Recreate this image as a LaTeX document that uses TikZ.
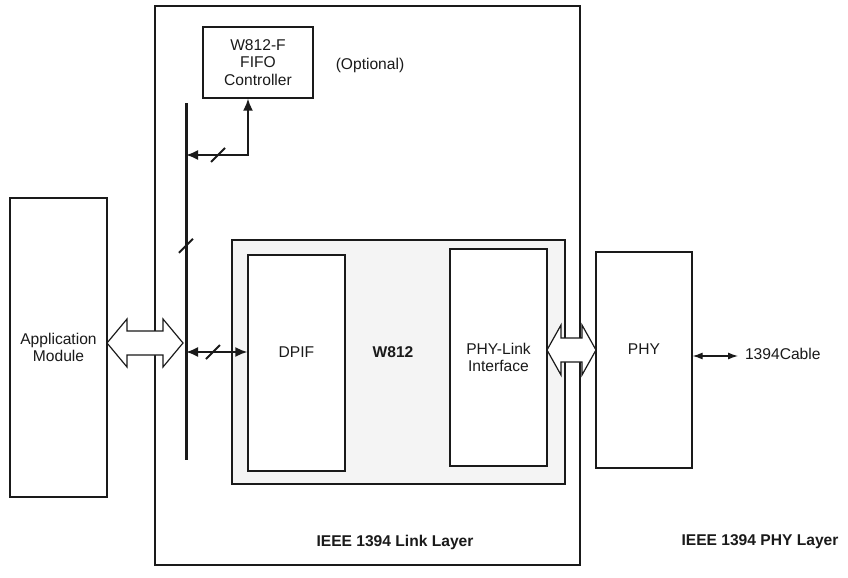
\documentclass[tikz,border=0pt]{standalone}
\usepackage{fontspec}
\setmainfont{Liberation Sans}
\usetikzlibrary{arrows.meta,calc}
\definecolor{ChipFill}{HTML}{F4F4F4}
\definecolor{LineDark}{HTML}{1A1A1A}

\begin{document}
\begin{tikzpicture}[x=0.5pt,y=-0.5pt,every node/.style={font=\fontsize{7.8}{8.6}\selectfont,text=LineDark},block/.style={draw=LineDark,line width=0.6pt,inner sep=0pt,align=center},layer/.style={font=\fontsize{7.8}{8.6}\selectfont\bfseries},bus/.style={draw=LineDark,line width=1.5pt},link/.style={draw=LineDark,line width=1pt,{Latex[length=6pt,width=5pt]}-{Latex[length=6pt,width=5pt]}},cable/.style={draw=LineDark,line width=0.6pt,{Latex[length=5pt,width=3.5pt]}-{Latex[length=5pt,width=3.5pt]}},slash/.style={draw=LineDark,line width=1pt},hollow/.style={draw=LineDark,fill=white,line width=0.6pt,line join=miter}]
\fill[white] (0,0) rectangle (848,578);
% layer boxes
\node[block,minimum width=212.5pt,minimum height=279.5pt](linklayer) at (367.5,285.5){};
\node[block,minimum width=48.5pt,minimum height=149.5pt](app) at (58.5,347.5){Application\\Module};
\node[block,fill=ChipFill,minimum width=166.5pt,minimum height=122pt](chip) at (398.5,362){};
\node[block,fill=white,minimum width=48.5pt,minimum height=108pt](dpif) at (296.5,363){};
\node[block,fill=white,minimum width=48.5pt,minimum height=108.5pt](plink) at (498.5,357.5){PHY-Link\\Interface};
\node[block,minimum width=48pt,minimum height=108pt](phy) at (644,360){};
\node[block,minimum width=55pt,minimum height=35.5pt](fifo) at (258,62.5){W812-F\\FIFO\\Controller};
\node(dpiftext) at ([yshift=5.5pt]dpif.center){DPIF};
\node(phytext) at ([yshift=5.5pt]phy.center){PHY};
\node[layer](chiptext) at (393,352){W812};
\node(optional) at (370,65){(Optional)};
\node[layer](linktext) at (395,542){IEEE 1394 Link Layer};
\node[layer](phylayer) at (760,542){IEEE 1394 PHY Layer};
% hollow bus arrows
\coordinate(appport) at (107,343);\coordinate(phyport) at (547,350);
\draw[hollow](appport)--++(20,-24)--++(0,12)--++(36,0)--++(0,-12)--++(20,24)--++(-20,24)--++(0,-12)--++(-36,0)--++(0,12)--cycle;
\draw[hollow](phyport)--++(14,-25)--++(0,13)--++(21,0)--++(0,-13)--++(14,25)--++(-14,25)--++(0,-13)--++(-21,0)--++(0,13)--cycle;
% internal bus
\coordinate(bustop) at (186,103);\coordinate(busbot) at (186,460);
\coordinate(busfifo) at (186,155);\coordinate(busdpif) at (186,352);
\draw[bus](bustop)--(busbot);
\draw[link](busfifo)-|([xshift=-5pt]fifo.south);
\draw[link](busdpif)--(busdpif-|dpif.west);
\draw[slash]($(busfifo)+(32,0)+(-7,7)$)--($(busfifo)+(32,0)+(7,-7)$);
\draw[slash]($(busdpif)+(27,0)+(-7,7)$)--($(busdpif)+(27,0)+(7,-7)$);
\draw[slash]($(bustop)!0.4!(busbot)+(-7,7)$)--($(bustop)!0.4!(busbot)+(7,-7)$);
% cable
\coordinate(cableend) at (738,356);
\draw[cable](phy.east|-cableend)--(cableend);
\node[anchor=west](cabletext) at (738,354){1394Cable};
\end{tikzpicture}
\end{document}
